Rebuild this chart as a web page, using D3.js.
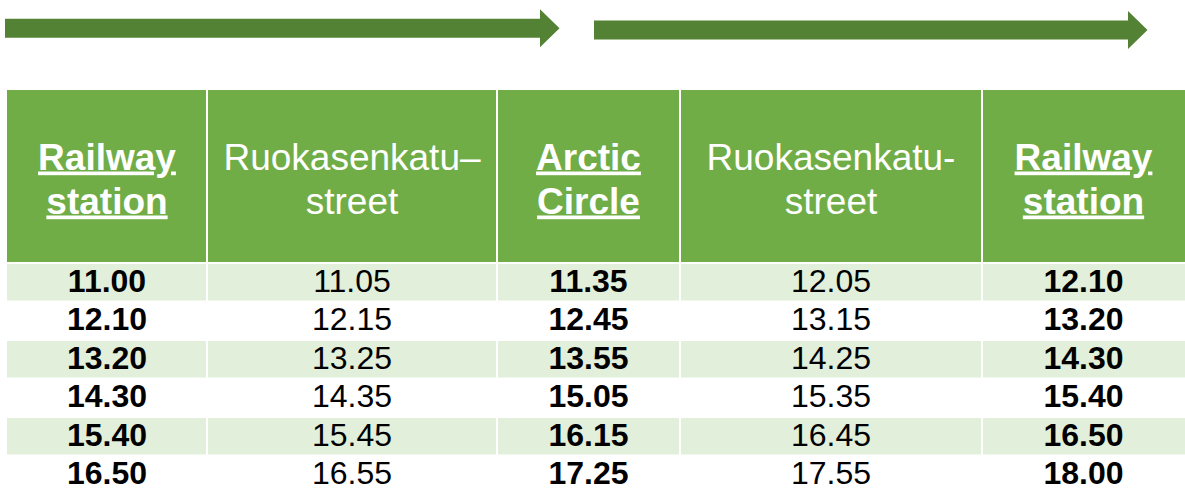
<!DOCTYPE html>
<html>
<head>
<meta charset="utf-8">
<script src="https://cdn.jsdelivr.net/npm/d3@7"></script>
<style>
  html, body { margin: 0; padding: 0; background: #fff; }
  svg { display: block; }
</style>
</head>
<body>
<script>
// timetable data
const headers = [
  { lines: ["Railway", "station"], stop: true },
  { lines: ["Ruokasenkatu\u2013", "street"], stop: false },
  { lines: ["Arctic", "Circle"], stop: true },
  { lines: ["Ruokasenkatu-", "street"], stop: false },
  { lines: ["Railway", "station"], stop: true },
];

const railwayOut = ["11.00", "12.10", "13.20", "14.30", "15.40", "16.50"];
const streetOut = ["11.05", "12.15", "13.25", "14.35", "15.45", "16.55"];
const arcticCircle = ["11.35", "12.45", "13.55", "15.05", "16.15", "17.25"];
const streetBack = ["12.05", "13.15", "14.25", "15.35", "16.45", "17.55"];
const railwayBack = ["12.10", "13.20", "14.30", "15.40", "16.50", "18.00"];

const columns = [railwayOut, streetOut, arcticCircle, streetBack, railwayBack];

const width = 1185;
const height = 489;

const colors = {
  arrow: "#548235",
  header: "#70AD47",
  band: "#E2EFDA",
  text: "#000000",
};

const svg = d3.select("body")
  .append("svg")
  .attr("width", width)
  .attr("height", height)
  .attr("viewBox", [0, 0, width, height]);

// column edges (layout)
const colEdges = [7, 207, 497, 680, 982, 1185];
const headerTop = 90;
const headerBottom = 263;

const rowScale = d3.scaleBand()
  .domain(d3.range(railwayOut.length))
  .range([headerBottom, headerBottom + 38.5 * railwayOut.length])
  .paddingInner(0);

// arrows
const arrowPath = (x0, x1, tip, yc) => {
  const p = d3.path();
  p.moveTo(x0, yc - 9.5);
  p.lineTo(x1, yc - 9.5);
  p.lineTo(x1, yc - 19);
  p.lineTo(tip, yc);
  p.lineTo(x1, yc + 19);
  p.lineTo(x1, yc + 9.5);
  p.lineTo(x0, yc + 9.5);
  p.closePath();
  return p.toString();
};

svg.append("path")
  .attr("d", arrowPath(5, 540, 559.5, 28.3))
  .attr("fill", colors.arrow);
svg.append("path")
  .attr("d", arrowPath(594, 1128, 1147.5, 30))
  .attr("fill", colors.arrow);

// header
const headerG = svg.append("g");
headerG.selectAll("rect")
  .data(headers)
  .join("rect")
  .attr("x", (d, i) => colEdges[i] + (i > 0 ? 1 : 0))
  .attr("y", headerTop)
  .attr("width", (d, i) => colEdges[i + 1] - colEdges[i] - (i > 0 ? 1 : 0) - (i < headers.length - 1 ? 1 : 0))
  .attr("height", headerBottom - headerTop - 1)
  .attr("fill", colors.header);

const headerMid = (headerTop + headerBottom) / 2;

headers.forEach((h, i) => {
  const cx = (colEdges[i] + colEdges[i + 1]) / 2;
  const t = headerG.append("text")
    .attr("x", cx)
    .attr("y", headerMid - 7)
    .attr("text-anchor", "middle")
    .attr("fill", "#fff")
    .attr("font-family", "Liberation Sans, Arial, sans-serif")
    .attr("font-size", 37)
    .attr("font-weight", h.stop ? "bold" : "normal")
    .attr("text-decoration", h.stop ? "underline" : null);
  h.lines.forEach((line, j) => {
    t.append("tspan")
      .attr("x", cx)
      .attr("dy", j === 0 ? 0 : 44)
      .text(line);
  });
});

// body rows
const bodyG = svg.append("g");
railwayOut.forEach((_, r) => {
  const y0 = rowScale(r);
  if (r % 2 === 0) {
    columns.forEach((col, c) => {
      bodyG.append("rect")
        .attr("x", colEdges[c] + (c > 0 ? 1 : 0))
        .attr("y", y0 + 1)
        .attr("width", colEdges[c + 1] - colEdges[c] - (c > 0 ? 1 : 0) - (c < columns.length - 1 ? 1 : 0))
        .attr("height", rowScale.bandwidth() - 2)
        .attr("fill", colors.band);
    });
  }
  columns.forEach((col, c) => {
    bodyG.append("text")
      .attr("x", (colEdges[c] + colEdges[c + 1]) / 2)
      .attr("y", y0 + 28.5)
      .attr("text-anchor", "middle")
      .attr("fill", colors.text)
      .attr("font-family", "Liberation Sans, Arial, sans-serif")
      .attr("font-size", 32)
      .attr("font-weight", c % 2 === 0 ? "bold" : "normal")
      .text(col[r]);
  });
});
</script>
</body>
</html>
